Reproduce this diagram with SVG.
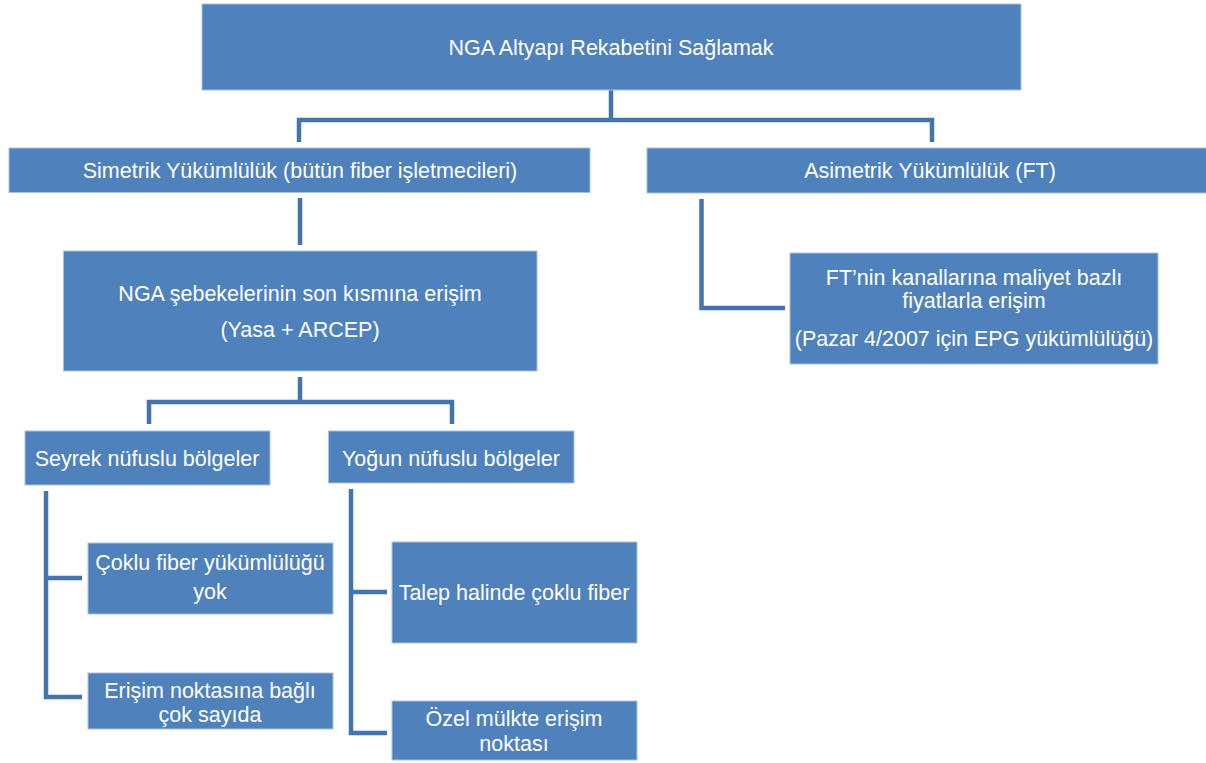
<svg xmlns="http://www.w3.org/2000/svg" width="1206" height="763" viewBox="0 0 1206 763">
<style>
.box{fill:#4F81BD;stroke:#A9C1E0;stroke-width:1}
.t{fill:#FFFFFF;font-family:"Liberation Sans","DejaVu Sans",sans-serif;font-size:21.5px;text-anchor:middle}
.c{fill:none;stroke:#4573AE;stroke-width:4.5;stroke-linejoin:miter}
</style>
<rect width="1206" height="763" fill="#FFFFFF"/>
<g id="connectors">
<path class="c" d="M611 90 V120 M299 142 V120 H932 V142"/>
<path class="c" d="M300 198 V245"/>
<path class="c" d="M300 377 V402 M149 424 V402 H452 V424"/>
<path class="c" d="M701.5 199 V308 H785"/>
<path class="c" d="M46 491 V697 H82 M46 578 H82"/>
<path class="c" d="M351 489 V733 H387 M351 592 H387"/>
</g>
<g id="n-root"><rect class="box" x="202" y="4" width="819" height="86"/><text class="t" x="611" y="55">NGA Altyapı Rekabetini  Sağlamak</text></g>
<g id="n-simetrik"><rect class="box" x="9" y="148" width="581" height="44.5"/><text class="t" x="300" y="178">Simetrik Yükümlülük (bütün fiber işletmecileri)</text></g>
<g id="n-asimetrik"><rect class="box" x="647" y="148" width="560" height="45"/><text class="t" x="930" y="178">Asimetrik Yükümlülük (FT)</text></g>
<g id="n-nga"><rect class="box" x="63.5" y="251" width="473.5" height="120"/><text class="t" x="300" y="301">NGA şebekelerinin son kısmına erişim</text><text class="t" x="300" y="337">(Yasa + ARCEP)</text></g>
<g id="n-ft"><rect class="box" x="790" y="253" width="368" height="111"/><text class="t" x="974" y="285">FT’nin kanallarına maliyet bazlı</text><text class="t" x="974" y="308">fiyatlarla erişim</text><text class="t" x="974" y="346">(Pazar 4/2007 için EPG yükümlülüğü)</text></g>
<g id="n-seyrek"><rect class="box" x="25" y="431" width="245" height="54"/><text class="t" x="147" y="466">Seyrek nüfuslu bölgeler</text></g>
<g id="n-yogun"><rect class="box" x="328.5" y="431" width="245.5" height="52"/><text class="t" x="451" y="466">Yoğun nüfuslu bölgeler</text></g>
<g id="n-coklu"><rect class="box" x="88" y="543" width="245" height="71"/><text class="t" x="210" y="570">Çoklu fiber yükümlülüğü</text><text class="t" x="210" y="599">yok</text></g>
<g id="n-erisim"><rect class="box" x="88" y="673" width="245" height="56"/><text class="t" x="210" y="698">Erişim noktasına bağlı</text><text class="t" x="210" y="722">çok sayıda</text></g>
<g id="n-talep"><rect class="box" x="392" y="542" width="245" height="101"/><text class="t" x="514" y="600">Talep halinde çoklu fiber</text></g>
<g id="n-ozel"><rect class="box" x="392" y="701" width="245" height="59"/><text class="t" x="514" y="726">Özel mülkte erişim</text><text class="t" x="514" y="751">noktası</text></g>
</svg>
